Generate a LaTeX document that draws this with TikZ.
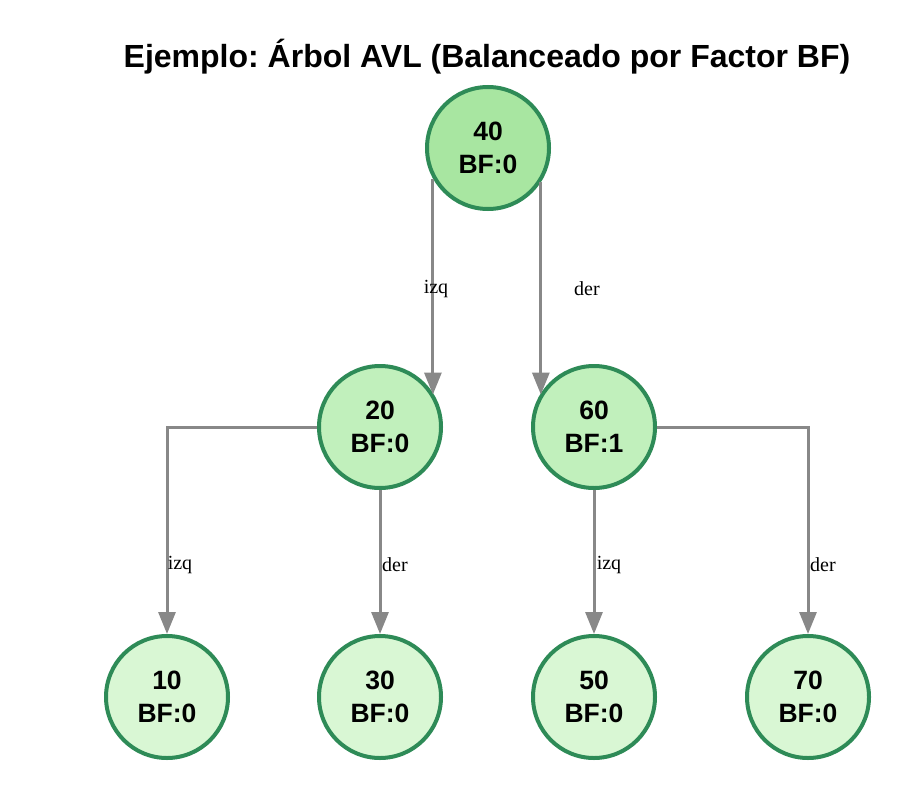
\documentclass[tikz,border=0pt]{standalone}
\usepackage{fontspec}
\setmainfont{Liberation Sans}
\newfontfamily\etiqfont{Liberation Serif}
\usetikzlibrary{arrows.meta}
\frenchspacing
\definecolor{borde}{HTML}{2E8B57}
\definecolor{raiz}{HTML}{A8E6A1}
\definecolor{medio}{HTML}{C1F0BC}
\definecolor{hoja}{HTML}{D9F7D4}
\definecolor{gris}{HTML}{888888}

\begin{document}
\begin{tikzpicture}[x=1pt,y=-1pt,
  nodo/.style={circle,draw=borde,line width=4pt,minimum size=122pt,inner sep=0pt,
    align=center,font=\fontsize{26.5}{33}\selectfont\bfseries},
  arista/.style={draw=gris,line width=3pt,-{Triangle[length=22pt,width=17pt]}},
  etiq/.style={font=\etiqfont\fontsize{20}{24}\selectfont,inner sep=0pt}]
\useasboundingbox (0,0) rectangle (920,792);
\node (titulo) at (487,57) {\fontsize{32}{38}\selectfont\bfseries Ejemplo: Árbol AVL (Balanceado por Factor BF)};
% nodes
\node [nodo,fill=raiz] (n40) at (488,148) {40\\BF:0};
\node [nodo,fill=medio] (n20) at (380,427) {20\\BF:0};
\node [nodo,fill=medio] (n60) at (594,427) {60\\BF:1};
\node [nodo,fill=hoja] (n10) at (167,697) {10\\BF:0};
\node [nodo,fill=hoja] (n30) at (380,697) {30\\BF:0};
\node [nodo,fill=hoja] (n50) at (594,697) {50\\BF:0};
\node [nodo,fill=hoja] (n70) at (808,697) {70\\BF:0};
% edges
\draw [arista] (n40.-151) -- (n40.-151 |- n20.31);
\draw [arista] (n40.-33) -- (n40.-33 |- n60.149);
\draw [arista] (n20.west) -| (n10.north);
\draw [arista] (n20.south) -- (n30.north);
\draw [arista] (n60.south) -- (n50.north);
\draw [arista] (n60.east) -| (n70.north);
% labels
\node [etiq] (e1) at (436,289) {izq};
\node [etiq] (e2) at (587,289) {der};
\node [etiq] (e3) at (180,565) {izq};
\node [etiq] (e4) at (395,565) {der};
\node [etiq] (e5) at (609,565) {izq};
\node [etiq] (e6) at (823,565) {der};
\end{tikzpicture}
\end{document}
